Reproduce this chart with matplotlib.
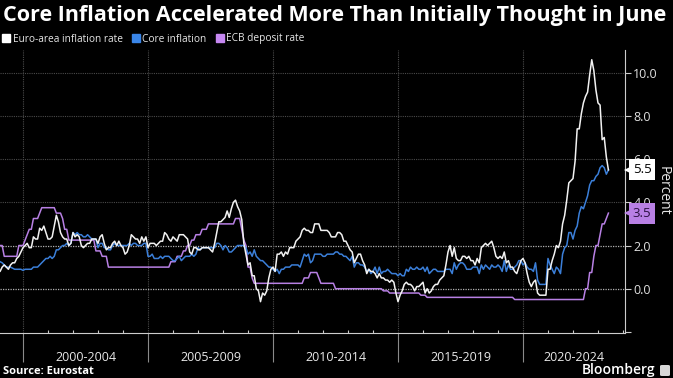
import numpy as np
import matplotlib
matplotlib.use("Agg")
import matplotlib.pyplot as plt
import matplotlib.transforms as mtransforms
from matplotlib.lines import Line2D
from matplotlib.patches import FancyBboxPatch

plt.rcParams['font.family'] = ['Open Sans', 'DejaVu Sans']

# monthly values, Jan 1999 - Jun 2023
headline = [
    0.8, 0.8, 1.0, 1.1, 1.0, 0.9, 1.1, 1.2, 1.2, 1.4, 1.5, 1.7,
    1.9, 2.0, 2.1, 1.9, 1.9, 2.4, 2.3, 2.3, 2.8, 2.7, 2.9, 2.6,
    2.3, 2.3, 2.4, 2.9, 3.4, 3.1, 2.6, 2.4, 2.3, 2.3, 2.0, 2.1,
    2.6, 2.4, 2.5, 2.4, 2.0, 1.9, 2.0, 2.1, 2.1, 2.3, 2.3, 2.3,
    2.1, 2.4, 2.5, 2.1, 1.8, 1.9, 1.9, 2.1, 2.2, 2.0, 2.2, 2.0,
    1.9, 1.6, 1.7, 2.0, 2.5, 2.4, 2.3, 2.3, 2.1, 2.4, 2.2, 2.4,
    1.9, 2.1, 2.1, 2.1, 2.0, 2.1, 2.2, 2.2, 2.6, 2.5, 2.3, 2.2,
    2.4, 2.3, 2.2, 2.5, 2.5, 2.5, 2.4, 2.3, 1.7, 1.6, 1.9, 1.9,
    1.8, 1.8, 1.9, 1.9, 1.9, 1.9, 1.8, 1.7, 2.1, 2.6, 3.1, 3.1,
    3.2, 3.3, 3.6, 3.3, 3.7, 4.0, 4.1, 3.8, 3.6, 3.2, 2.1, 1.6,
    1.1, 1.2, 0.6, 0.6, 0.0, -0.1, -0.6, -0.2, -0.3, -0.1, 0.5, 0.9,
    1.0, 0.8, 1.6, 1.6, 1.7, 1.5, 1.7, 1.6, 1.9, 1.9, 1.9, 2.2,
    2.3, 2.4, 2.7, 2.8, 2.7, 2.7, 2.6, 2.6, 3.0, 3.0, 3.0, 2.7,
    2.7, 2.7, 2.7, 2.6, 2.4, 2.4, 2.4, 2.6, 2.6, 2.5, 2.2, 2.2,
    2.0, 1.8, 1.7, 1.2, 1.4, 1.6, 1.6, 1.3, 1.1, 0.7, 0.9, 0.8,
    0.8, 0.7, 0.5, 0.7, 0.5, 0.5, 0.4, 0.4, 0.3, 0.4, 0.3, -0.2,
    -0.6, -0.3, -0.1, 0.2, 0.3, 0.2, 0.2, 0.1, -0.1, 0.1, 0.1, 0.2,
    0.3, -0.2, 0.0, -0.2, -0.1, 0.1, 0.2, 0.2, 0.4, 0.5, 0.6, 1.1,
    1.7, 2.0, 1.5, 1.9, 1.4, 1.3, 1.3, 1.5, 1.5, 1.4, 1.5, 1.3,
    1.3, 1.1, 1.4, 1.2, 1.9, 2.0, 2.1, 2.0, 2.1, 2.2, 1.9, 1.5,
    1.4, 1.5, 1.4, 1.7, 1.2, 1.3, 1.0, 1.0, 0.8, 0.7, 1.0, 1.3,
    1.4, 1.2, 0.7, 0.3, 0.1, 0.3, 0.4, -0.2, -0.3, -0.3, -0.3, -0.3,
    0.9, 0.9, 1.3, 1.6, 2.0, 1.9, 2.2, 3.0, 3.4, 4.1, 4.9, 5.0,
    5.1, 5.9, 7.4, 7.4, 8.1, 8.6, 8.9, 9.1, 9.9, 10.6, 10.1, 9.2,
    8.6, 8.5, 6.9, 7.0, 6.1, 5.5,
]

core = [
    1.3, 1.25, 1.2, 1.1, 1.0, 1.0, 1.0, 0.95, 0.9, 0.9, 0.9, 0.9,
    0.85, 0.9, 0.9, 0.9, 0.9, 1.0, 1.0, 1.0, 1.1, 1.2, 1.3, 1.4,
    1.4, 1.5, 1.4, 1.5, 1.8, 1.8, 1.9, 2.0, 2.0, 2.1, 2.0, 2.1,
    2.6, 2.5, 2.6, 2.5, 2.5, 2.4, 2.4, 2.5, 2.4, 2.3, 2.3, 2.3,
    1.9, 2.1, 2.1, 1.9, 1.9, 1.8, 1.8, 2.0, 2.1, 2.0, 2.0, 2.0,
    2.0, 2.0, 2.0, 2.1, 2.0, 2.1, 2.1, 2.0, 2.0, 2.0, 2.1, 2.1,
    1.5, 1.5, 1.6, 1.4, 1.4, 1.4, 1.5, 1.4, 1.5, 1.5, 1.5, 1.4,
    1.3, 1.3, 1.4, 1.5, 1.3, 1.4, 1.5, 1.5, 1.5, 1.6, 1.5, 1.6,
    1.9, 1.8, 1.9, 1.9, 1.9, 1.9, 1.9, 1.9, 1.9, 2.1, 2.1, 2.0,
    1.8, 2.0, 1.9, 1.7, 1.7, 1.8, 1.9, 2.0, 2.0, 2.0, 2.0, 1.9,
    1.6, 1.7, 1.5, 1.8, 1.5, 1.4, 1.3, 1.3, 1.2, 1.1, 1.0, 1.0,
    0.9, 0.8, 0.9, 0.7, 0.9, 0.9, 1.0, 1.0, 1.0, 1.1, 1.1, 1.1,
    1.1, 1.0, 1.3, 1.6, 1.5, 1.6, 1.2, 1.3, 1.6, 1.6, 1.6, 1.6,
    1.5, 1.5, 1.6, 1.6, 1.6, 1.6, 1.7, 1.7, 1.6, 1.6, 1.5, 1.5,
    1.4, 1.3, 1.5, 1.0, 1.2, 1.2, 1.1, 1.1, 1.0, 0.8, 0.9, 0.7,
    0.8, 1.0, 0.7, 1.0, 0.7, 0.8, 0.8, 0.9, 0.8, 0.7, 0.7, 0.7,
    0.6, 0.7, 0.6, 0.6, 0.9, 0.8, 1.0, 0.9, 0.9, 1.0, 0.9, 0.9,
    1.0, 0.8, 1.0, 0.7, 0.8, 0.9, 0.9, 0.8, 0.8, 0.8, 0.8, 0.9,
    0.9, 0.9, 0.7, 1.2, 0.9, 1.1, 1.2, 1.2, 1.1, 0.9, 0.9, 0.9,
    1.0, 1.0, 1.0, 0.7, 1.1, 0.9, 1.1, 1.0, 0.9, 1.1, 1.0, 1.0,
    1.1, 1.0, 0.8, 1.3, 0.8, 1.1, 0.9, 0.9, 1.0, 1.1, 1.3, 1.3,
    1.1, 1.2, 1.0, 0.9, 0.9, 0.8, 1.2, 0.4, 0.2, 0.2, 0.2, 0.2,
    1.4, 1.1, 0.9, 0.7, 1.0, 0.9, 0.7, 1.6, 1.9, 2.0, 2.6, 2.6,
    2.3, 2.7, 2.9, 3.5, 3.8, 3.7, 4.0, 4.3, 4.8, 5.0, 5.0, 5.2,
    5.3, 5.6, 5.7, 5.6, 5.3, 5.5,
]

deposit = [
    2.0, 2.0, 2.0, 1.5, 1.5, 1.5, 1.5, 1.5, 1.5, 1.5, 2.0, 2.0,
    2.0, 2.25, 2.5, 2.75, 2.75, 3.25, 3.25, 3.25, 3.5, 3.75, 3.75, 3.75,
    3.75, 3.75, 3.75, 3.75, 3.5, 3.5, 3.5, 3.25, 2.75, 2.75, 2.25, 2.25,
    2.25, 2.25, 2.25, 2.25, 2.25, 2.25, 2.25, 2.25, 2.25, 2.25, 2.25, 1.75,
    1.75, 1.75, 1.5, 1.5, 1.5, 1.0, 1.0, 1.0, 1.0, 1.0, 1.0, 1.0,
    1.0, 1.0, 1.0, 1.0, 1.0, 1.0, 1.0, 1.0, 1.0, 1.0, 1.0, 1.0,
    1.0, 1.0, 1.0, 1.0, 1.0, 1.0, 1.0, 1.0, 1.0, 1.0, 1.0, 1.25,
    1.25, 1.25, 1.5, 1.5, 1.5, 1.75, 1.75, 2.0, 2.0, 2.25, 2.25, 2.5,
    2.5, 2.5, 2.75, 2.75, 2.75, 3.0, 3.0, 3.0, 3.0, 3.0, 3.0, 3.0,
    3.0, 3.0, 3.0, 3.0, 3.0, 3.0, 3.25, 3.25, 3.25, 2.75, 2.25, 2.0,
    1.0, 1.0, 0.5, 0.25, 0.25, 0.25, 0.25, 0.25, 0.25, 0.25, 0.25, 0.25,
    0.25, 0.25, 0.25, 0.25, 0.25, 0.25, 0.25, 0.25, 0.25, 0.25, 0.25, 0.25,
    0.25, 0.25, 0.25, 0.5, 0.5, 0.5, 0.75, 0.75, 0.75, 0.75, 0.5, 0.25,
    0.25, 0.25, 0.25, 0.25, 0.25, 0.25, 0.0, 0.0, 0.0, 0.0, 0.0, 0.0,
    0.0, 0.0, 0.0, 0.0, 0.0, 0.0, 0.0, 0.0, 0.0, 0.0, 0.0, 0.0,
    0.0, 0.0, 0.0, 0.0, 0.0, -0.1, -0.1, -0.1, -0.2, -0.2, -0.2, -0.2,
    -0.2, -0.2, -0.2, -0.2, -0.2, -0.2, -0.2, -0.2, -0.2, -0.2, -0.2, -0.3,
    -0.3, -0.3, -0.4, -0.4, -0.4, -0.4, -0.4, -0.4, -0.4, -0.4, -0.4, -0.4,
    -0.4, -0.4, -0.4, -0.4, -0.4, -0.4, -0.4, -0.4, -0.4, -0.4, -0.4, -0.4,
    -0.4, -0.4, -0.4, -0.4, -0.4, -0.4, -0.4, -0.4, -0.4, -0.4, -0.4, -0.4,
    -0.4, -0.4, -0.4, -0.4, -0.4, -0.4, -0.4, -0.4, -0.5, -0.5, -0.5, -0.5,
    -0.5, -0.5, -0.5, -0.5, -0.5, -0.5, -0.5, -0.5, -0.5, -0.5, -0.5, -0.5,
    -0.5, -0.5, -0.5, -0.5, -0.5, -0.5, -0.5, -0.5, -0.5, -0.5, -0.5, -0.5,
    -0.5, -0.5, -0.5, -0.5, -0.5, -0.5, 0.0, 0.0, 0.75, 0.75, 1.5, 2.0,
    2.0, 2.5, 3.0, 3.0, 3.25, 3.5,
]

periods = ["2000-2004", "2005-2009", "2010-2014", "2015-2019", "2020-2024"]
period_starts = [2000, 2005, 2010, 2015, 2020]
yticks = [-2, 0, 2, 4, 6, 8, 10]

months = 1999 + np.arange(len(headline)) / 12

c_white = "#f2f2f2"
c_blue = "#3b7fd9"
c_purple = "#b880e4"

fig = plt.figure(figsize=(6.73, 3.78), dpi=100, facecolor="black")
ax = fig.add_axes([0.0, 1 - 333 / 378, 625 / 673, (333 - 50) / 378])
ax.set_facecolor("black")

# grid
for y in [4, 6, 8, 10]:
    ax.axhline(y, color="#4a4a4a", lw=0.8, ls=(0, (1, 1)), zorder=1)
for y in [0, 2]:
    ax.axhline(y, color="#b0b0b0", lw=0.9, ls=(0, (1, 1)), zorder=1)
for x in period_starts:
    ax.axvline(x, color="#4a4a4a", lw=0.8, ls=(0, (1, 1)), zorder=1)

ax.plot(months, deposit, color=c_purple, lw=1.1, zorder=3)
ax.plot(months, core, color=c_blue, lw=1.1, zorder=4)
ax.plot(months, headline, color=c_white, lw=1.1, zorder=5)

ax.set_xlim(1999.08, 2024.08)
ax.set_ylim(-2.05, 11.05)

# axes styling
for s in ["top", "left"]:
    ax.spines[s].set_visible(False)
ax.spines["right"].set_color("#cccccc")
ax.spines["bottom"].set_color("#cccccc")
ax.yaxis.tick_right()
ax.set_yticks(yticks)
ax.set_yticklabels(["" if v < 0 else f"{v:.1f}" for v in yticks])
ax.tick_params(axis="y", colors="#cccccc", labelcolor="#e0e0e0", length=4,
               width=0.8, labelsize=9, pad=2)

ax.set_xticks(period_starts)
ax.set_xticklabels([])
ax.set_xticks(np.arange(2000, 2025), minor=True)
ax.tick_params(axis="x", which="major", direction="out", length=21, width=0.8,
               color="#8a8a8a")
ax.tick_params(axis="x", which="minor", direction="in", length=2, width=0.8,
               color="#cccccc")

x_right = ax.get_xlim()[1]
for lab, s in zip(periods, period_starts):
    xc = (s + min(s + 5, x_right)) / 2
    ax.annotate(lab, xy=(xc, 0), xycoords=("data", "axes fraction"),
                xytext=(0, -17.5), textcoords="offset points",
                ha="center", va="center", color="#e8e8e8", fontsize=9)

fig.text(663 / 673, 1 - 191 / 378, "Percent", rotation=270, color="#e8e8e8",
         fontsize=10, ha="center", va="center")

# last value tags (box with a small pointer on the left)
shift = mtransforms.ScaledTranslation(2.2 / 72, 0, fig.dpi_scale_trans)
for val, fc, tc in [(headline[-1], "white", "black"), (deposit[-1], c_purple, "#2a1040")]:
    ax.annotate(f"{val:.1f}", xy=(1, val), xycoords=("axes fraction", "data"),
                xytext=(5.5, 0), textcoords="offset points", ha="left", va="center",
                fontsize=9.5, color=tc, zorder=6, annotation_clip=False,
                bbox=dict(boxstyle="square,pad=0.3", fc=fc, ec="none"))
    ax.plot([1.0], [val], marker="<", markersize=5.5, color=fc,
            transform=ax.get_yaxis_transform() + shift,
            clip_on=False, zorder=6, markeredgewidth=0)

# title and legend
fig.text(0.004, 1 - 15 / 378, "Core Inflation Accelerated More Than Initially Thought in June",
         fontsize=15.5, fontweight="bold", color="white", va="center", ha="left")

handles = [
    Line2D([], [], marker="s", ls="none", markersize=6, color="white"),
    Line2D([], [], marker="s", ls="none", markersize=6, color="#3a86e8"),
    Line2D([], [], marker="s", ls="none", markersize=6, color="#c688f2"),
]
leg = fig.legend(handles, ["Euro-area inflation rate", "Core inflation", "ECB deposit rate"],
                 loc="center left", bbox_to_anchor=(0.0, 1 - 39 / 378), ncol=3,
                 frameon=False, fontsize=7.3, handlelength=0.8, handletextpad=0.25,
                 columnspacing=0.9, borderpad=0.2, borderaxespad=0)
for t in leg.get_texts():
    t.set_color("#e8e8e8")

# footer
fig.text(0.004, 1 - 371 / 378, "Source: Eurostat", fontsize=8, fontweight="bold",
         color="white", va="center", ha="left")
fig.text(655 / 673, 1 - 370 / 378, "Bloomberg", fontsize=10, fontweight="semibold",
         color="white", va="center", ha="right")
fig.patches.append(FancyBboxPatch((660 / 673, 1 - 376 / 378), 10 / 673, 11 / 378,
                                  boxstyle="round,pad=0,rounding_size=0.003",
                                  transform=fig.transFigure, fc="#d8d8d8", ec="none"))

fig.savefig("out.png", dpi=100, facecolor="black")
